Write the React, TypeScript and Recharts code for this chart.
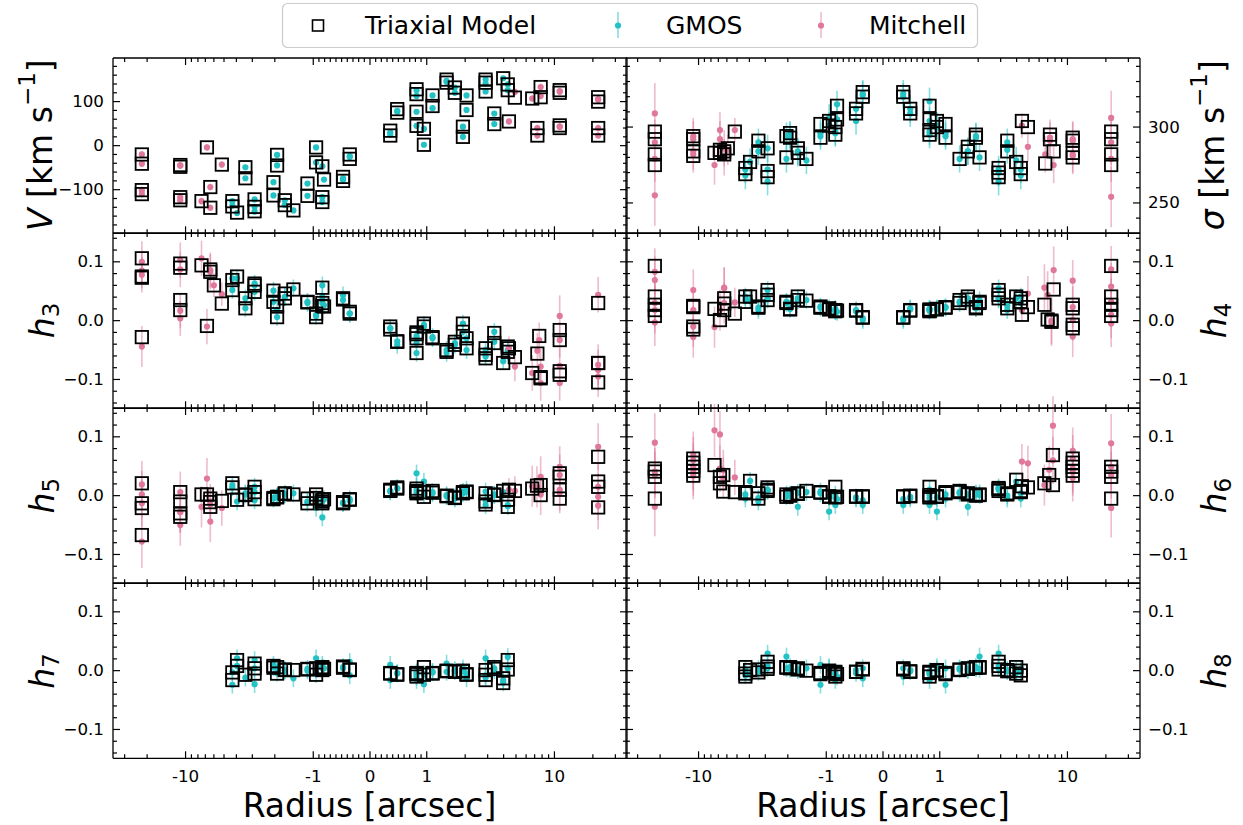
import React from 'react';
import { ScatterChart, Scatter, XAxis, YAxis, ErrorBar } from 'recharts';

// each point: [radius (arcsec), measured, error, triaxial model]
type Pt = [number, number, number, number];

const vGmos: Pt[] = [
  [-4.3, -126, 5, -126], [-4.3, -136, 5, -138], [-3.95, -153, 5, -152], [-3.4, -49, 5, -49], [-3.4, -74, 5, -74],
  [-2.88, -122, 5, -122], [-2.88, -139, 5, -139], [-2.88, -150, 5, -149], [-2.05, -83, 5, -83], [-2.05, -113, 5, -113],
  [-1.92, -21, 5, -21], [-1.92, -45, 5, -45], [-1.67, -124, 5, -124], [-1.67, -135, 5, -135], [-1.43, -147, 5, -147],
  [-1.11, -86, 5, -86], [-1.11, -114, 5, -114], [-0.95, -4, 5, -4], [-0.95, -38, 5, -38], [-0.84, -47, 5, -47],
  [-0.84, -117, 5, -117], [-0.84, -128, 5, -128], [-0.81, -77, 5, -77], [-0.475, -74, 5, -71], [-0.475, -78, 5, -80],
  [-0.357, -24, 5, -20], [-0.357, -26, 5, -30],
  [0.357, 30, 5, 34], [0.357, 25, 5, 23], [0.48, 79, 5, 83], [0.48, 77, 5, 75], [0.82, 126, 5, 128], [0.82, 113, 5, 117],
  [0.82, 77, 5, 77], [0.82, 45, 5, 45], [0.95, 38, 5, 38], [0.95, 2, 5, 2], [1.11, 114, 5, 114], [1.11, 85, 5, 90],
  [1.43, 147, 5, 150], [1.43, 145, 5, 143], [1.66, 132, 5, 132], [1.66, 120, 5, 120], [1.92, 43, 5, 43], [1.92, 20, 5, 20],
  [2.05, 114, 5, 114], [2.05, 81, 5, 81], [2.89, 150, 5, 150], [2.89, 141, 5, 143], [2.89, 123, 5, 123], [3.38, 73, 5, 73],
  [3.38, 49, 5, 49], [3.97, 153, 5, 153], [4.31, 139, 5, 139], [4.31, 126, 5, 126],
];
const vMitchell: Pt[] = [
  [-22, -20, 8, -20], [-22, -41, 8, -41], [-22, -101, 8, -101], [-22, -110, 8, -110],
  [-11, -45, 8, -44], [-11, -45, 8, -48], [-11, -117, 8, -117], [-11, -124, 8, -124],
  [-7.5, -126, 8, -126], [-6.8, -4, 8, -4], [-6.4, -94, 8, -94], [-6.4, -141, 8, -141], [-5.2, -43, 8, -43],
  [4.4, 55, 8, 55], [4.9, 122, 8, 109], [6.7, 107, 8, 107], [7.35, 40, 8, 40], [7.35, 23, 8, 23],
  [7.8, 133, 8, 133], [7.8, 113, 8, 110], [11, 123, 8, 126], [11, 123, 8, 120], [11, 43, 8, 46], [11, 43, 8, 40],
  [22, 105, 8, 110], [22, 105, 8, 100], [22, 40, 8, 40], [22, 23, 8, 23],
];

const sigGmos: Pt[] = [
  [-4.3, 272, 9, 273], [-4.3, 268, 9, 269], [-3.95, 277, 9, 277], [-3.4, 290, 9, 291], [-3.4, 284, 9, 284],
  [-2.88, 286, 9, 286], [-2.88, 272, 9, 271], [-2.88, 264, 9, 267], [-2.05, 294, 9, 294], [-2.05, 279, 9, 280],
  [-1.92, 295, 9, 296], [-1.92, 294, 9, 293], [-1.67, 284, 9, 286], [-1.67, 283, 9, 283], [-1.43, 278, 9, 279],
  [-1.11, 296, 9, 302], [-1.11, 294, 9, 293], [-0.95, 306, 9, 304], [-0.95, 301, 9, 301], [-0.84, 297, 9, 300],
  [-0.84, 296, 9, 295], [-0.81, 315, 9, 314], [-0.81, 305, 9, 305], [-0.475, 312, 9, 312], [-0.475, 304, 9, 309],
  [-0.357, 322, 9, 323], [-0.357, 321, 9, 320],
  [0.357, 322, 9, 323], [0.357, 320, 9, 320], [0.48, 312, 9, 312], [0.48, 309, 9, 309], [0.82, 317, 9, 314],
  [0.82, 304, 9, 305], [0.82, 297, 9, 298], [0.82, 295, 9, 295], [0.95, 301, 9, 304], [0.95, 300, 9, 300],
  [1.11, 296, 9, 302], [1.11, 294, 9, 293], [1.43, 279, 9, 279], [1.66, 284, 9, 287], [1.66, 284, 9, 284],
  [1.92, 294, 9, 295], [1.92, 293, 9, 293], [2.05, 280, 9, 280], [2.89, 272, 9, 273], [2.89, 270, 9, 270],
  [2.89, 264, 9, 267], [3.38, 290, 9, 291], [3.38, 285, 9, 284], [3.97, 278, 9, 277], [4.31, 272, 9, 273],
  [4.31, 268, 9, 269],
];
const sigMitchell: Pt[] = [
  [-22, 309, 20, 297], [-22, 290, 15, 292], [-22, 279, 15, 282], [-22, 255, 20, 275],
  [-11, 294, 12, 294], [-11, 292, 12, 292], [-11, 284, 12, 284], [-11, 282, 12, 281],
  [-7.5, 275, 13, 283], [-6.8, 298, 12, 285], [-6.8, 292, 12, 283], [-6.3, 286, 12, 284], [-6.3, 280, 12, 282],
  [-5.9, 285, 10, 286], [-5.2, 298, 8, 297],
  [4.4, 301, 8, 304], [4.9, 287, 10, 300], [6.7, 282, 12, 276], [7.3, 293, 12, 295], [7.3, 291, 12, 292],
  [7.8, 275, 12, 284], [11, 292, 12, 293], [11, 291, 12, 291], [11, 282, 12, 283], [11, 281, 12, 280],
  [22, 306, 18, 297], [22, 290, 15, 292], [22, 279, 15, 282], [22, 254, 20, 275],
];

const h3Gmos: Pt[] = [
  [-4.3, 0.072, 0.015, 0.069], [-4.3, 0.052, 0.015, 0.052], [-3.95, 0.072, 0.015, 0.075], [-3.4, 0.038, 0.015, 0.038],
  [-3.4, 0.021, 0.015, 0.021], [-2.88, 0.063, 0.015, 0.063], [-2.88, 0.06, 0.015, 0.06], [-2.88, 0.049, 0.015, 0.049],
  [-2.05, 0.051, 0.015, 0.051], [-2.05, 0.032, 0.015, 0.032], [-1.92, 0.018, 0.015, 0.024], [-1.92, 0.006, 0.015, 0.006],
  [-1.67, 0.04, 0.015, 0.046], [-1.67, 0.04, 0.015, 0.038], [-1.43, 0.055, 0.015, 0.053], [-1.11, 0.032, 0.015, 0.032],
  [-1.11, 0.03, 0.015, 0.031], [-0.95, 0.01, 0.015, 0.012], [-0.95, 0.008, 0.015, 0.006], [-0.84, 0.06, 0.015, 0.056],
  [-0.84, 0.04, 0.015, 0.025], [-0.84, 0.03, 0.015, 0.03], [-0.81, 0.026, 0.015, 0.024], [-0.475, 0.043, 0.015, 0.038],
  [-0.475, 0.035, 0.015, 0.036], [-0.357, 0.012, 0.015, 0.015], [-0.357, 0.012, 0.015, 0.012],
  [0.357, -0.013, 0.015, -0.01], [0.357, -0.013, 0.015, -0.015], [0.48, -0.041, 0.015, -0.036], [0.48, -0.035, 0.015, -0.035],
  [0.82, -0.026, 0.015, -0.02], [0.82, -0.038, 0.015, -0.023], [0.82, -0.055, 0.015, -0.055], [0.82, -0.03, 0.015, -0.03],
  [0.95, -0.007, 0.015, -0.005], [0.95, -0.01, 0.015, -0.01], [1.11, -0.03, 0.015, -0.03], [1.11, -0.028, 0.015, -0.028],
  [1.43, -0.055, 0.015, -0.053], [1.43, -0.05, 0.015, -0.05], [1.66, -0.038, 0.015, -0.036], [1.66, -0.041, 0.015, -0.041],
  [1.92, -0.005, 0.015, -0.005], [1.92, -0.019, 0.015, -0.019], [2.05, -0.03, 0.015, -0.03], [2.05, -0.05, 0.015, -0.047],
  [2.89, -0.058, 0.015, -0.058], [2.89, -0.061, 0.015, -0.064], [2.89, -0.05, 0.015, -0.047], [3.38, -0.019, 0.015, -0.021],
  [3.38, -0.036, 0.015, -0.038], [3.97, -0.069, 0.015, -0.072], [4.31, -0.05, 0.015, -0.044], [4.31, -0.053, 0.015, -0.053],
];
const h3Mitchell: Pt[] = [
  [-22, 0.1, 0.035, 0.106], [-22, 0.085, 0.03, 0.073], [-22, 0.078, 0.03, 0.075], [-22, -0.044, 0.035, -0.028],
  [-11, 0.103, 0.03, 0.097], [-11, 0.087, 0.03, 0.09], [-11, 0.017, 0.03, 0.035], [-11, 0.004, 0.03, 0.018],
  [-7.5, 0.106, 0.03, 0.094], [-6.8, -0.01, 0.03, -0.009], [-6.4, 0.086, 0.03, 0.087], [-6.4, 0.083, 0.03, 0.083],
  [-6.0, 0.06, 0.02, 0.06], [-5.2, 0.045, 0.02, 0.029],
  [4.4, -0.047, 0.02, -0.047], [4.9, -0.078, 0.025, -0.062], [6.7, -0.089, 0.03, -0.089], [7.35, -0.051, 0.03, -0.056],
  [7.6, -0.033, 0.03, -0.026], [7.8, -0.078, 0.03, -0.098], [7.8, -0.106, 0.03, -0.096],
  [11, 0.008, 0.035, -0.016], [11, -0.033, 0.03, -0.033], [11, -0.077, 0.03, -0.086], [11, -0.106, 0.03, -0.092],
  [22, 0.044, 0.03, 0.03], [22, -0.084, 0.035, -0.072], [22, -0.095, 0.035, -0.105], [22, -0.075, 0.035, -0.072],
];

const h4Gmos: Pt[] = [
  [-4.3, 0.041, 0.015, 0.041], [-4.3, 0.035, 0.015, 0.032], [-3.95, 0.035, 0.015, 0.041], [-3.4, 0.018, 0.015, 0.024],
  [-3.4, 0.022, 0.015, 0.022], [-2.88, 0.052, 0.015, 0.052], [-2.88, 0.038, 0.015, 0.044], [-2.88, 0.036, 0.015, 0.035],
  [-2.05, 0.032, 0.015, 0.032], [-2.05, 0.03, 0.015, 0.03], [-1.92, 0.021, 0.015, 0.019], [-1.92, 0.02, 0.015, 0.02],
  [-1.67, 0.038, 0.015, 0.041], [-1.67, 0.035, 0.015, 0.035], [-1.43, 0.035, 0.015, 0.034], [-1.11, 0.024, 0.015, 0.024],
  [-1.11, 0.022, 0.015, 0.022], [-0.95, 0.021, 0.015, 0.021], [-0.95, 0.019, 0.015, 0.019], [-0.84, 0.016, 0.015, 0.018],
  [-0.84, 0.02, 0.015, 0.017], [-0.84, 0.017, 0.015, 0.016], [-0.81, 0.015, 0.015, 0.017], [-0.475, 0.018, 0.015, 0.018],
  [-0.475, 0.016, 0.015, 0.017], [-0.357, 0.001, 0.015, 0.006], [-0.357, 0.004, 0.015, 0.005],
  [0.357, 0.001, 0.015, 0.006], [0.357, 0.004, 0.015, 0.005], [0.48, 0.021, 0.015, 0.018], [0.48, 0.019, 0.015, 0.017],
  [0.82, 0.018, 0.015, 0.018], [0.82, 0.02, 0.015, 0.017], [0.82, 0.017, 0.015, 0.019], [0.82, 0.019, 0.015, 0.016],
  [0.95, 0.02, 0.015, 0.02], [0.95, 0.021, 0.015, 0.019], [1.11, 0.023, 0.015, 0.023], [1.11, 0.022, 0.015, 0.022],
  [1.43, 0.032, 0.015, 0.035], [1.43, 0.03, 0.015, 0.03], [1.66, 0.038, 0.015, 0.041], [1.66, 0.036, 0.015, 0.036],
  [1.92, 0.021, 0.015, 0.021], [1.92, 0.022, 0.015, 0.023], [2.05, 0.035, 0.015, 0.032], [2.05, 0.03, 0.015, 0.03],
  [2.89, 0.055, 0.015, 0.052], [2.89, 0.038, 0.015, 0.044], [2.89, 0.036, 0.015, 0.038], [3.38, 0.018, 0.015, 0.021],
  [3.38, 0.025, 0.015, 0.027], [3.97, 0.038, 0.015, 0.041], [4.31, 0.041, 0.015, 0.038], [4.31, 0.03, 0.015, 0.032],
];
const h4Mitchell: Pt[] = [
  [-22, 0.083, 0.04, 0.093], [-22, 0.069, 0.04, 0.041], [-22, 0.03, 0.04, 0.027], [-22, 0.018, 0.04, 0.018],
  [-22, -0.003, 0.04, 0.008], [-11, 0.052, 0.035, 0.023], [-11, 0.018, 0.035, 0.025], [-11, -0.01, 0.035, -0.01],
  [-11, -0.028, 0.035, -0.015], [-7.5, -0.011, 0.035, 0.02], [-6.8, 0.018, 0.035, 0.001], [-6.3, 0.056, 0.035, 0.038],
  [-6.3, 0.055, 0.035, 0.029], [-6.3, 0.03, 0.035, 0.018], [-5.2, 0.031, 0.025, 0.012],
  [4.4, 0.018, 0.02, 0.01], [4.9, 0.046, 0.03, 0.023], [6.6, 0.056, 0.04, 0.027], [7.0, 0.044, 0.04, 0.002],
  [7.5, 0.0, 0.04, 0.0], [7.5, -0.003, 0.04, -0.002], [7.8, 0.086, 0.04, 0.053],
  [11, 0.068, 0.035, 0.027], [11, 0.023, 0.035, 0.021], [11, 0.001, 0.035, -0.007], [11, -0.027, 0.035, -0.013],
  [22, 0.087, 0.04, 0.093], [22, 0.058, 0.04, 0.041], [22, 0.032, 0.04, 0.027], [22, -0.005, 0.04, 0.018], [22, 0.01, 0.04, 0.008],
];

const h5Gmos: Pt[] = [
  [-4.3, 0.018, 0.015, 0.021], [-4.3, 0.014, 0.015, 0.014], [-3.95, -0.01, 0.015, -0.007], [-3.4, 0.004, 0.015, 0.001],
  [-3.4, 0.002, 0.015, 0.002], [-2.88, 0.015, 0.015, 0.015], [-2.88, 0.006, 0.015, 0.006], [-2.88, -0.008, 0.015, -0.006],
  [-2.05, -0.005, 0.015, -0.006], [-2.05, -0.004, 0.015, -0.004], [-1.92, -0.002, 0.015, -0.003], [-1.92, -0.001, 0.015, -0.002],
  [-1.67, 0.002, 0.015, 0.004], [-1.67, 0.003, 0.015, 0.003], [-1.43, 0.004, 0.015, 0.002], [-1.11, -0.01, 0.015, -0.005],
  [-1.11, -0.012, 0.015, -0.013], [-0.95, -0.021, 0.015, 0.002], [-0.95, -0.005, 0.015, -0.004], [-0.84, -0.037, 0.015, -0.007],
  [-0.84, -0.01, 0.015, -0.013], [-0.84, -0.008, 0.015, -0.01], [-0.81, -0.006, 0.015, -0.006], [-0.475, -0.013, 0.015, -0.013],
  [-0.475, -0.012, 0.015, -0.011], [-0.357, -0.009, 0.015, -0.007], [-0.357, -0.006, 0.015, -0.006],
  [0.357, 0.007, 0.015, 0.01], [0.357, 0.008, 0.015, 0.008], [0.48, 0.012, 0.015, 0.014], [0.48, 0.013, 0.015, 0.012],
  [0.82, 0.038, 0.015, 0.012], [0.82, 0.015, 0.015, 0.006], [0.82, 0.01, 0.015, 0.008], [0.82, 0.005, 0.015, 0.004],
  [0.95, 0.024, 0.015, 0.006], [0.95, 0.002, 0.015, -0.002], [1.11, 0.004, 0.015, 0.008], [1.11, 0.006, 0.015, 0.005],
  [1.43, 0.001, 0.015, 0.0], [1.43, -0.001, 0.015, -0.001], [1.66, -0.005, 0.015, -0.003], [1.66, -0.003, 0.015, -0.004],
  [1.92, 0.007, 0.015, 0.004], [1.92, 0.004, 0.015, 0.006], [2.05, 0.01, 0.015, 0.007], [2.05, 0.006, 0.015, 0.006],
  [2.89, 0.007, 0.015, 0.004], [2.89, -0.008, 0.015, -0.01], [2.89, -0.016, 0.015, -0.015], [3.38, 0.001, 0.015, 0.002],
  [3.38, 0.002, 0.015, 0.001], [3.97, 0.006, 0.015, 0.008], [4.31, -0.016, 0.015, -0.007], [4.31, -0.018, 0.015, -0.019],
];
const h5Mitchell: Pt[] = [
  [-22, 0.019, 0.04, 0.021], [-22, 0.002, 0.04, -0.013], [-22, -0.013, 0.04, -0.021], [-22, -0.078, 0.045, -0.067],
  [-11, 0.006, 0.035, 0.006], [-11, -0.028, 0.035, -0.01], [-11, -0.028, 0.035, -0.03], [-11, -0.05, 0.035, -0.036],
  [-7.5, -0.019, 0.035, 0.002], [-6.8, 0.029, 0.035, 0.002], [-6.4, -0.044, 0.035, -0.005], [-6.4, -0.01, 0.03, -0.011],
  [-6.4, -0.015, 0.03, -0.019], [-5.2, -0.021, 0.03, -0.009],
  [4.4, 0.01, 0.02, 0.01], [4.9, 0.008, 0.025, 0.008], [6.7, 0.016, 0.035, 0.012], [7.3, 0.015, 0.035, 0.017],
  [7.8, 0.032, 0.035, 0.018], [7.8, 0.002, 0.035, 0.001],
  [11, 0.049, 0.035, 0.038], [11, 0.035, 0.035, 0.032], [11, 0.01, 0.035, 0.01], [11, 0.005, 0.035, -0.005],
  [22, 0.083, 0.04, 0.066], [22, 0.015, 0.04, 0.024], [22, -0.002, 0.04, 0.015], [22, -0.017, 0.04, -0.02],
];

const h6Gmos: Pt[] = [
  [-4.3, -0.005, 0.015, 0.006], [-4.3, 0.002, 0.015, 0.004], [-3.95, 0.025, 0.015, 0.025], [-3.4, -0.01, 0.015, 0.004],
  [-3.4, -0.004, 0.015, -0.005], [-2.88, 0.01, 0.015, 0.014], [-2.88, 0.009, 0.015, 0.008], [-2.88, 0.008, 0.015, 0.01],
  [-2.05, 0.002, 0.015, 0.002], [-2.05, -0.001, 0.015, -0.002], [-1.92, 0.0, 0.015, 0.0], [-1.92, 0.002, 0.015, 0.001],
  [-1.67, -0.019, 0.015, 0.004], [-1.67, 0.005, 0.015, 0.003], [-1.43, 0.006, 0.015, 0.008], [-1.11, 0.007, 0.015, 0.006],
  [-1.11, 0.004, 0.015, 0.005], [-0.95, -0.027, 0.015, -0.002], [-0.95, -0.002, 0.015, -0.001], [-0.84, -0.016, 0.015, 0.015],
  [-0.84, 0.002, 0.015, -0.002], [-0.84, -0.004, 0.015, -0.003], [-0.81, -0.006, 0.015, -0.002], [-0.475, -0.005, 0.015, -0.002],
  [-0.475, -0.003, 0.015, -0.001], [-0.357, -0.016, 0.015, -0.002], [-0.357, -0.008, 0.015, -0.001],
  [0.357, -0.016, 0.015, -0.002], [0.357, -0.006, 0.015, -0.001], [0.48, -0.005, 0.015, 0.0], [0.48, -0.002, 0.015, -0.001],
  [0.82, -0.016, 0.015, 0.015], [0.82, 0.01, 0.015, -0.002], [0.82, -0.004, 0.015, -0.003], [0.82, 0.002, 0.015, 0.001],
  [0.95, -0.027, 0.015, -0.002], [0.95, -0.003, 0.015, -0.001], [1.11, -0.005, 0.015, 0.006], [1.11, 0.002, 0.015, 0.004],
  [1.43, 0.006, 0.015, 0.008], [1.43, 0.004, 0.015, 0.006], [1.66, -0.019, 0.015, 0.004], [1.66, 0.002, 0.015, 0.002],
  [1.92, 0.004, 0.015, 0.001], [1.92, 0.002, 0.015, 0.0], [2.05, 0.004, 0.015, 0.002], [2.05, 0.001, 0.015, 0.001],
  [2.89, 0.01, 0.015, 0.011], [2.89, 0.012, 0.015, 0.008], [2.89, 0.014, 0.015, 0.013], [3.38, -0.005, 0.015, 0.004],
  [3.38, 0.0, 0.015, 0.002], [3.97, 0.024, 0.015, 0.027], [4.31, -0.005, 0.015, 0.006], [4.31, 0.004, 0.015, 0.008],
];
const h6Mitchell: Pt[] = [
  [-22, 0.09, 0.05, 0.046], [-22, 0.041, 0.04, 0.041], [-22, 0.035, 0.04, 0.032], [-22, -0.019, 0.05, -0.005],
  [-11, 0.069, 0.04, 0.063], [-11, 0.06, 0.04, 0.056], [-11, 0.049, 0.04, 0.049], [-11, 0.034, 0.04, 0.042],
  [-11, 0.04, 0.04, 0.034], [-7.5, 0.111, 0.045, 0.052], [-6.8, 0.104, 0.04, 0.032], [-6.8, 0.046, 0.04, 0.021],
  [-6.4, 0.043, 0.035, 0.035], [-6.4, 0.03, 0.035, 0.007], [-5.2, 0.031, 0.03, 0.006],
  [4.4, 0.058, 0.03, 0.016], [4.9, 0.055, 0.03, 0.014], [6.6, 0.018, 0.035, 0.021], [7.2, 0.044, 0.04, 0.035],
  [7.7, 0.119, 0.05, 0.069], [7.7, 0.06, 0.04, 0.018],
  [11, 0.076, 0.04, 0.063], [11, 0.063, 0.04, 0.056], [11, 0.046, 0.04, 0.049], [11, 0.03, 0.04, 0.042], [11, 0.04, 0.04, 0.034],
  [22, 0.089, 0.05, 0.049], [22, 0.049, 0.04, 0.041], [22, 0.035, 0.04, 0.032], [22, -0.021, 0.05, -0.005],
];

const h7Gmos: Pt[] = [
  [-4.3, -0.003, 0.015, -0.003], [-4.3, -0.024, 0.015, -0.016], [-3.95, 0.021, 0.015, 0.018], [-3.95, 0.008, 0.015, 0.008],
  [-3.4, -0.012, 0.015, -0.007], [-2.88, 0.018, 0.015, 0.012], [-2.88, 0.004, 0.015, 0.004], [-2.88, -0.023, 0.015, -0.005],
  [-2.05, 0.01, 0.015, 0.008], [-2.05, 0.006, 0.015, 0.005], [-1.92, 0.004, 0.015, 0.006], [-1.92, -0.004, 0.015, -0.005],
  [-1.67, 0.0, 0.015, 0.002], [-1.67, 0.001, 0.015, 0.001], [-1.43, -0.013, 0.015, 0.001], [-1.11, 0.0, 0.015, 0.002],
  [-1.11, 0.003, 0.015, 0.003], [-0.95, 0.021, 0.015, 0.004], [-0.95, -0.006, 0.015, -0.007], [-0.84, 0.01, 0.015, 0.006],
  [-0.84, 0.004, 0.015, 0.001], [-0.84, 0.005, 0.015, 0.004], [-0.81, 0.004, 0.015, 0.003], [-0.475, 0.006, 0.015, 0.007],
  [-0.475, 0.004, 0.015, 0.005], [-0.357, 0.015, 0.015, 0.002], [-0.357, -0.008, 0.015, 0.001],
  [0.357, -0.016, 0.015, -0.005], [0.357, 0.01, 0.015, -0.004], [0.48, -0.005, 0.015, -0.007], [0.48, -0.004, 0.015, -0.006],
  [0.82, -0.016, 0.015, -0.005], [0.82, -0.01, 0.015, -0.01], [0.82, -0.006, 0.015, -0.004], [0.82, -0.003, 0.015, -0.006],
  [0.95, -0.023, 0.015, 0.006], [0.95, -0.006, 0.015, -0.007], [1.11, -0.002, 0.015, -0.005], [1.11, -0.003, 0.015, -0.004],
  [1.43, 0.012, 0.015, 0.0], [1.43, -0.002, 0.015, -0.001], [1.66, 0.001, 0.015, -0.002], [1.66, -0.001, 0.015, -0.001],
  [1.92, 0.004, 0.015, 0.0], [1.92, -0.001, 0.015, -0.001], [2.05, -0.013, 0.015, -0.007], [2.05, -0.005, 0.015, -0.006],
  [2.89, 0.021, 0.015, 0.001], [2.89, -0.008, 0.015, -0.007], [2.89, -0.012, 0.015, -0.016], [3.38, 0.004, 0.015, 0.006],
  [3.38, 0.001, 0.015, 0.003], [3.97, -0.016, 0.015, -0.013], [3.97, -0.02, 0.015, -0.021], [4.31, 0.023, 0.015, 0.018],
  [4.31, 0.004, 0.015, 0.002],
];

const h8Gmos: Pt[] = [
  [-4.3, 0.002, 0.015, 0.006], [-4.3, -0.004, 0.015, -0.005], [-4.3, -0.008, 0.015, -0.01], [-3.95, -0.006, 0.015, 0.001],
  [-3.4, 0.003, 0.015, 0.002], [-3.4, -0.002, 0.015, -0.003], [-2.88, 0.029, 0.015, 0.015], [-2.88, 0.008, 0.015, 0.007],
  [-2.88, 0.004, 0.015, 0.003], [-2.05, 0.024, 0.015, 0.006], [-2.05, 0.004, 0.015, 0.005], [-1.92, 0.006, 0.015, 0.006],
  [-1.92, 0.003, 0.015, 0.004], [-1.67, 0.001, 0.015, 0.004], [-1.67, 0.002, 0.015, 0.002], [-1.43, 0.004, 0.015, 0.0],
  [-1.11, -0.024, 0.015, -0.006], [-1.11, 0.01, 0.015, -0.004], [-0.95, 0.006, 0.015, -0.002], [-0.95, 0.003, 0.015, 0.0],
  [-0.84, -0.016, 0.015, -0.002], [-0.84, -0.006, 0.015, -0.01], [-0.84, -0.003, 0.015, -0.004], [-0.81, -0.01, 0.015, -0.006],
  [-0.475, 0.001, 0.015, -0.002], [-0.475, -0.004, 0.015, -0.002], [-0.357, -0.013, 0.015, 0.002], [-0.357, 0.004, 0.015, 0.003],
  [0.357, -0.01, 0.015, 0.004], [0.357, 0.004, 0.015, 0.002], [0.48, 0.001, 0.015, -0.002], [0.48, -0.001, 0.015, -0.001],
  [0.82, -0.016, 0.015, -0.002], [0.82, -0.006, 0.015, -0.01], [0.82, -0.003, 0.015, -0.004], [0.82, -0.001, 0.015, -0.003],
  [0.95, 0.006, 0.015, 0.001], [0.95, 0.002, 0.015, 0.0], [1.11, -0.024, 0.015, -0.006], [1.11, 0.004, 0.015, -0.004],
  [1.43, 0.004, 0.015, 0.001], [1.43, 0.002, 0.015, 0.002], [1.66, 0.001, 0.015, 0.004], [1.66, 0.003, 0.015, 0.003],
  [1.92, 0.006, 0.015, 0.005], [1.92, 0.004, 0.015, 0.006], [2.05, 0.024, 0.015, 0.006], [2.05, 0.003, 0.015, 0.005],
  [2.89, 0.029, 0.015, 0.015], [2.89, 0.008, 0.015, 0.008], [2.89, 0.004, 0.015, 0.002], [3.38, -0.001, 0.015, 0.001],
  [3.38, 0.001, 0.015, -0.001], [3.97, 0.001, 0.015, 0.006], [3.97, -0.004, 0.015, -0.005], [4.31, 0.002, 0.015, 0.0],
  [4.31, -0.002, 0.015, -0.008],
];

// axis ticks
const xMajor = [-10, -1, 0, 1, 10];
const xMinor = [-30, -20, -9, -8, -7, -6, -5, -4, -3, -2, -0.9, -0.8, -0.7, -0.6, -0.5, -0.4, -0.3, -0.2, -0.1,
  0.1, 0.2, 0.3, 0.4, 0.5, 0.6, 0.7, 0.8, 0.9, 2, 3, 4, 5, 6, 7, 8, 9, 20, 30];
const vMajor = [-100, 0, 100];
const vMinor = [-180, -160, -140, -120, -80, -60, -40, -20, 20, 40, 60, 80, 120, 140, 160, 180];
const sigMajor = [250, 300];
const sigMinor = [240, 260, 270, 280, 290, 310, 320, 330, 340];
const hMajor = [-0.1, 0, 0.1];
const hMinor = [-0.14, -0.12, -0.08, -0.06, -0.04, -0.02, 0.02, 0.04, 0.06, 0.08, 0.12, 0.14];

// symmetric log x scale (linthresh 1)
const LIN = 0.4444;
const symlog = (r: number) => (Math.abs(r) <= 1 ? r * LIN : Math.sign(r) * (LIN + Math.log10(Math.abs(r))));
const X_LIM = symlog(37);

const GMOS = '#22c2c5';
const GMOS_ERR = 'rgba(34,194,197,0.55)';
const MITCH = '#e0779d';
const MITCH_ERR = 'rgba(224,119,157,0.5)';
const FONT = 'DejaVu Sans';

const PLOT_W = 514;
const PLOT_H = 175.3;
const COL_X = [112.5, 626];
const ROW_Y = 57.5;
const AW = 70;
const AH = 40;

const fmtInt = (v: number) => (v < 0 ? '\u2212' + Math.abs(v) : String(v));
const fmtH = (v: number) => (v < 0 ? '\u2212' + Math.abs(v).toFixed(1) : v.toFixed(1));
const fmtX = (v: number) => String(v);

const isMajor = (v: number, majors: number[]) => majors.some((m) => Math.abs(m - v) < 1e-9);

function makeTick(side: string, majors: number[], label: ((v: number) => string) | null, rawOf?: (v: number) => number) {
  return (props: any) => {
    const { x, y, payload } = props;
    const v = payload.value;
    const major = isMajor(v, majors);
    const len = major ? 7 : 4;
    const ls = { stroke: '#000', strokeWidth: 1.2 };
    let line;
    let text = null;
    const txt = label && major ? label(rawOf ? rawOf(v) : v) : null;
    if (side === 'bottom') {
      line = <line x1={x} x2={x} y1={y} y2={y - len} {...ls} />;
      if (txt !== null) text = <text x={x} y={y + 23.5} textAnchor="middle" fontSize={16.7} fontFamily={FONT} fill="#000">{txt}</text>;
    } else if (side === 'top') {
      line = <line x1={x} x2={x} y1={y} y2={y + len} {...ls} />;
    } else if (side === 'left') {
      line = <line x1={x} x2={x + len} y1={y} y2={y} {...ls} />;
      if (txt !== null) text = <text x={x - 9} y={y} textAnchor="end" dominantBaseline="central" fontSize={16.7} fontFamily={FONT} fill="#000">{txt}</text>;
    } else {
      line = <line x1={x} x2={x - len} y1={y} y2={y} {...ls} />;
      if (txt !== null) text = <text x={x + 8} y={y} textAnchor="start" dominantBaseline="central" fontSize={16.7} fontFamily={FONT} fill="#000">{txt}</text>;
    }
    return <g>{line}{text}</g>;
  };
}

const xTicks = [...xMajor, ...xMinor].map(symlog);
const xMajorT = xMajor.map(symlog);
const rawX = (t: number) => xMajor[xMajorT.findIndex((m) => Math.abs(m - t) < 1e-9)];

const square = (p: any) => (
  <rect x={p.cx - 6.2} y={p.cy - 6.2} width={12.4} height={12.4} fill="none" stroke="#000" strokeWidth={1.8} />
);
const dot = (c: string) => (p: any) => <circle cx={p.cx} cy={p.cy} r={3.1} fill={c} />;

type PanelCfg = {
  gmos: Pt[];
  mitchell: Pt[];
  col: number;
  row: number;
  domain: [number, number];
  major: number[];
  minor: number[];
  fmt: (v: number) => string;
};

const panels: PanelCfg[] = [
  { gmos: vGmos, mitchell: vMitchell, col: 0, row: 0, domain: [-199, 199], major: vMajor, minor: vMinor, fmt: fmtInt },
  { gmos: sigGmos, mitchell: sigMitchell, col: 1, row: 0, domain: [230, 345.5], major: sigMajor, minor: sigMinor, fmt: fmtInt },
  { gmos: h3Gmos, mitchell: h3Mitchell, col: 0, row: 1, domain: [-0.149, 0.149], major: hMajor, minor: hMinor, fmt: fmtH },
  { gmos: h4Gmos, mitchell: h4Mitchell, col: 1, row: 1, domain: [-0.149, 0.149], major: hMajor, minor: hMinor, fmt: fmtH },
  { gmos: h5Gmos, mitchell: h5Mitchell, col: 0, row: 2, domain: [-0.149, 0.149], major: hMajor, minor: hMinor, fmt: fmtH },
  { gmos: h6Gmos, mitchell: h6Mitchell, col: 1, row: 2, domain: [-0.149, 0.149], major: hMajor, minor: hMinor, fmt: fmtH },
  { gmos: h7Gmos, mitchell: [], col: 0, row: 3, domain: [-0.149, 0.149], major: hMajor, minor: hMinor, fmt: fmtH },
  { gmos: h8Gmos, mitchell: [], col: 1, row: 3, domain: [-0.149, 0.149], major: hMajor, minor: hMinor, fmt: fmtH },
];

function Panel({ cfg }: { cfg: PanelCfg }) {
  const left = COL_X[cfg.col];
  const top = ROW_Y + cfg.row * PLOT_H;
  const gm = cfg.gmos.map(([r, v, e]) => ({ x: symlog(r), y: v, err: e }));
  const mi = cfg.mitchell.map(([r, v, e]) => ({ x: symlog(r), y: v, err: e }));
  const mo = [...cfg.gmos, ...cfg.mitchell].map(([r, , , m]) => ({ x: symlog(r), y: m }));
  const yTicks = [...cfg.major, ...cfg.minor];
  const bottomRow = cfg.row === 3;
  const axisLine = { stroke: '#000', strokeWidth: 1.3 };
  return (
    <div style={{ position: 'absolute', left: left - AW, top: top - AH }}>
      <ScatterChart width={PLOT_W + 2 * AW} height={PLOT_H + 2 * AH} margin={{ top: 0, right: 0, bottom: 0, left: 0 }}>
        <XAxis xAxisId="b" orientation="bottom" type="number" dataKey="x" domain={[-X_LIM, X_LIM]} allowDataOverflow
          ticks={xTicks} interval={0} height={AH} tickLine={false} tickSize={0} tickMargin={0} axisLine={axisLine}
          tick={makeTick('bottom', xMajorT, bottomRow ? fmtX : null, rawX)} />
        <XAxis xAxisId="t" orientation="top" type="number" dataKey="x" domain={[-X_LIM, X_LIM]} allowDataOverflow
          ticks={xTicks} interval={0} height={AH} tickLine={false} tickSize={0} tickMargin={0} axisLine={axisLine}
          tick={makeTick('top', xMajorT, null)} />
        <YAxis yAxisId="l" orientation="left" type="number" dataKey="y" domain={cfg.domain} allowDataOverflow
          ticks={yTicks} interval={0} width={AW} tickLine={false} tickSize={0} tickMargin={0} axisLine={axisLine}
          tick={makeTick('left', cfg.major, cfg.col === 0 ? cfg.fmt : null)} />
        <YAxis yAxisId="r" orientation="right" type="number" dataKey="y" domain={cfg.domain} allowDataOverflow
          ticks={yTicks} interval={0} width={AW} tickLine={false} tickSize={0} tickMargin={0} axisLine={axisLine}
          tick={makeTick('right', cfg.major, cfg.col === 1 ? cfg.fmt : null)} />
        <Scatter data={gm} xAxisId="t" yAxisId="r" shape={dot(GMOS)} isAnimationActive={false}>
          <ErrorBar dataKey="err" direction="y" width={0} stroke={GMOS_ERR} strokeWidth={1.6} isAnimationActive={false} />
        </Scatter>
        {mi.length > 0 && (
          <Scatter data={mi} xAxisId="b" yAxisId="l" shape={dot(MITCH)} isAnimationActive={false}>
            <ErrorBar dataKey="err" direction="y" width={0} stroke={MITCH_ERR} strokeWidth={1.6} isAnimationActive={false} />
          </Scatter>
        )}
        <Scatter data={mo} xAxisId="b" yAxisId="l" shape={square} isAnimationActive={false} />
      </ScatterChart>
    </div>
  );
}

const kms = (sym: string) => (
  <>
    <tspan fontStyle="italic">{sym}</tspan>
    <tspan> [km s</tspan>
    <tspan dy={-13} fontSize={23}>{'\u22121'}</tspan>
    <tspan dy={13}>]</tspan>
  </>
);
const hLabel = (n: number) => (
  <>
    <tspan fontStyle="italic">h</tspan>
    <tspan dy={9} fontSize={23}>{n}</tspan>
  </>
);

export default function App() {
  const rowMid = (r: number) => ROW_Y + r * PLOT_H + PLOT_H / 2;
  const yLabels = [
    { x: 40, r: 0, node: kms('V') },
    { x: 1212, r: 0, node: kms('\u03c3') },
    { x: 42, r: 1, node: hLabel(3) },
    { x: 1214, r: 1, node: hLabel(4) },
    { x: 42, r: 2, node: hLabel(5) },
    { x: 1214, r: 2, node: hLabel(6) },
    { x: 42, r: 3, node: hLabel(7) },
    { x: 1214, r: 3, node: hLabel(8) },
  ];
  return (
    <div style={{ position: 'absolute', left: 0, top: 0, width: 1243, height: 825, background: '#fff', overflow: 'hidden' }}>
      {panels.map((p, i) => <Panel key={i} cfg={p} />)}
      <svg width={1243} height={825} style={{ position: 'absolute', left: 0, top: 0, pointerEvents: 'none' }}
        fontFamily={FONT}>
        {yLabels.map((l, i) => (
          <text key={i} transform={`translate(${l.x},${rowMid(l.r)}) rotate(-90)`} textAnchor="middle"
            dominantBaseline="central" fontSize={33} fill="#000">{l.node}</text>
        ))}
        <text x={COL_X[0] + PLOT_W / 2} y={817} textAnchor="middle" fontSize={33} fill="#000">Radius [arcsec]</text>
        <text x={COL_X[1] + PLOT_W / 2} y={817} textAnchor="middle" fontSize={33} fill="#000">Radius [arcsec]</text>
        <rect x={282.5} y={3.5} width={695} height={44} rx={5} fill="#fff" fillOpacity={0.8} stroke="#cccccc" strokeWidth={1.2} />
        <rect x={312.5} y={20} width={11} height={11} fill="none" stroke="#000" strokeWidth={1.6} />
        <text x={365} y={34} fontSize={25} fill="#000">Triaxial Model</text>
        <line x1={618} x2={618} y1={12} y2={38} stroke={GMOS_ERR} strokeWidth={1.6} />
        <circle cx={618} cy={25.5} r={3.1} fill={GMOS} />
        <text x={666} y={34} fontSize={25} fill="#000">GMOS</text>
        <line x1={821} x2={821} y1={12} y2={38} stroke={MITCH_ERR} strokeWidth={1.6} />
        <circle cx={821} cy={25.5} r={3.1} fill={MITCH} />
        <text x={869} y={34} fontSize={25} fill="#000">Mitchell</text>
      </svg>
    </div>
  );
}
